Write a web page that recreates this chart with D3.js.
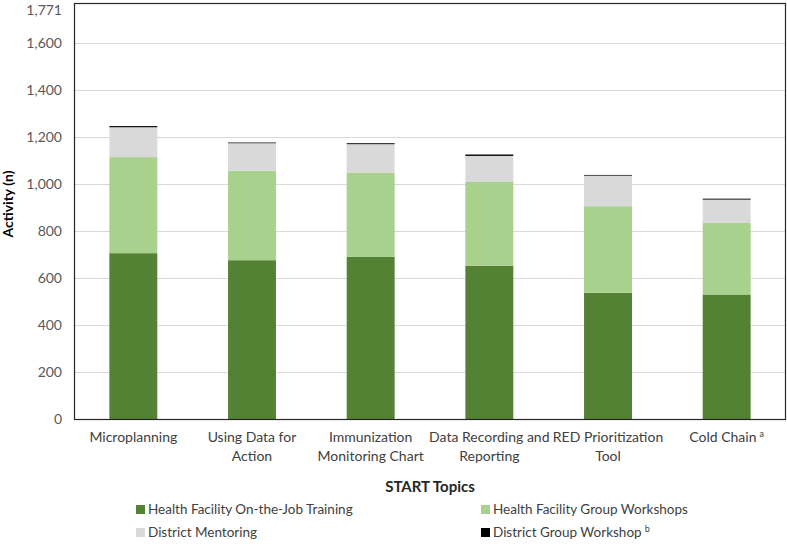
<!DOCTYPE html>
<html><head><meta charset="utf-8">
<script src="https://cdn.jsdelivr.net/npm/d3@7"></script>
<style>
html,body{margin:0;padding:0;background:#fff;}
svg{display:block;font-family:Lato, "Open Sans", sans-serif;}
</style></head>
<body><svg id="chart" width="787" height="544"></svg>
<script>
const categories = ["Microplanning","Using Data for Action","Immunization Monitoring Chart","Data Recording and Reporting","RED Prioritization Tool","Cold Chain"];
const categoryLines = [["Microplanning"],["Using Data for","Action"],["Immunization","Monitoring Chart"],["Data Recording and","Reporting"],["RED Prioritization","Tool"],["Cold Chain"]];
const categorySup = ["","","","","","a"];
const seriesNames = ["Health Facility On-the-Job Training","Health Facility Group Workshops","District Mentoring","District Group Workshop"];
const seriesSup = ["","","","b"];
const hfOnJob = [706, 676, 690, 653, 537, 530];
const hfGroup = [409, 381, 359, 356, 369, 305];
const districtMentoring = [127, 117, 121, 111, 130, 99];
const districtGroup = [5, 3, 4, 6, 3, 4];
const yTicks = [0,200,400,600,800,1000,1200,1400,1600,1771];
const yMax = 1771;
const colors = ["#548235","#A9D18E","#D9D9D9","#000000"];

const svg = d3.select("#chart");
const m = {left:74, right:786, top:3, bottom:419};
const x = d3.scaleBand().domain(categories).range([m.left, m.right]).paddingInner(0.596).paddingOuter(0.298);
const y = d3.scaleLinear().domain([0, yMax]).range([m.bottom, m.top]);

const data = categories.map((c,i)=>({cat:c, s0:hfOnJob[i], s1:hfGroup[i], s2:districtMentoring[i], s3:districtGroup[i]}));
const stack = d3.stack().keys(["s0","s1","s2","s3"])(data);

// gridlines
svg.append("g").selectAll("line").data(yTicks.filter(t=>t>0 && t<yMax)).join("line")
  .attr("x1", m.left).attr("x2", m.right)
  .attr("y1", d=>Math.round(y(d))+0.5).attr("y2", d=>Math.round(y(d))+0.5)
  .attr("stroke","#D9D9D9").attr("stroke-width",1);

// bars
svg.append("g").selectAll("g").data(stack).join("g")
  .attr("fill",(d,i)=>colors[i])
  .selectAll("rect").data(d=>d).join("rect")
  .attr("x", d=>x(d.data.cat))
  .attr("width", x.bandwidth())
  .attr("y", d=>y(d[1]))
  .attr("height", d=>y(d[0])-y(d[1]));

// frame
svg.append("rect").attr("x", m.left+0.5).attr("y", m.top+0.5)
  .attr("width", m.right-m.left-1).attr("height", m.bottom-m.top)
  .attr("fill","none").attr("stroke","#262626").attr("stroke-width",1.2);

// y axis
const yAxis = d3.axisLeft(y).tickValues(yTicks).tickSize(0).tickPadding(12).tickFormat(d3.format(","));
const ya = svg.append("g").attr("transform",`translate(${m.left},0)`).call(yAxis);
ya.select(".domain").remove();
ya.selectAll("text").attr("font-size",14).attr("fill","#595959").attr("font-family","Lato, sans-serif");
ya.selectAll(".tick").filter(d=>d===yMax).select("text").attr("dy","0.85em");

// x axis labels
const xa = svg.append("g");
categories.forEach((c,i)=>{
  const cx = x(c) + x.bandwidth()/2;
  const t = xa.append("text").attr("x", cx).attr("y", 442).attr("text-anchor","middle")
    .attr("font-size",14).attr("fill","#404040");
  categoryLines[i].forEach((ln,j)=>{
    t.append("tspan").attr("x", cx).attr("dy", j===0?0:19).text(ln);
  });
  if (categorySup[i]) {
    t.append("tspan").attr("font-size",9).attr("dx",3).attr("dy",-5).text(categorySup[i]);
  }
});

// axis titles
svg.append("text").attr("x", (m.left+m.right)/2).attr("y", 492).attr("text-anchor","middle")
  .attr("font-size",15).attr("font-weight","bold").attr("fill","#262626").text("START Topics");
svg.append("text").attr("transform",`translate(13,204) rotate(-90)`).attr("text-anchor","middle")
  .attr("font-size",14).attr("font-weight","bold").attr("fill","#000").text("Activity (n)");

// legend
const legPos = [[136,514],[481,514],[136,537],[481,537]];
seriesNames.forEach((s,i)=>{
  const g = svg.append("g").attr("transform",`translate(${legPos[i][0]},${legPos[i][1]})`);
  g.append("rect").attr("x",0).attr("y",-9).attr("width",9).attr("height",9).attr("fill",colors[i]);
  const t = g.append("text").attr("x",12).attr("y",0).attr("font-size",13.5).attr("fill","#404040").text(s);
  if (seriesSup[i]) t.append("tspan").attr("font-size",9).attr("dx",3).attr("dy",-5).text(seriesSup[i]);
});
</script></body></html>
